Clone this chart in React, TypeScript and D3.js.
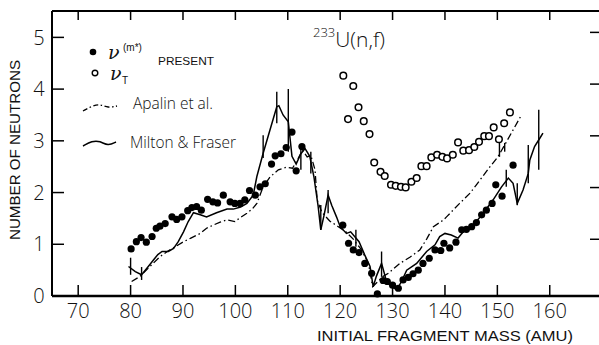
import React from 'react';
import * as d3 from 'd3';

const xTicks = [70, 80, 90, 100, 110, 120, 130, 140, 150, 160];
const yTicks = [0, 1, 2, 3, 4, 5];

// ν(m*) present (filled dots): [mass, neutrons]
const nuPresent: [number, number][] = [
  [80.1, 0.91], [81.1, 1.05], [82.0, 1.13], [83.0, 1.04], [84.1, 1.15], [84.9, 1.31],
  [85.6, 1.35], [86.6, 1.40], [87.9, 1.53], [88.8, 1.48], [89.8, 1.53], [90.9, 1.65],
  [91.7, 1.71], [92.6, 1.73], [93.5, 1.66], [94.7, 1.87], [95.7, 1.82], [96.6, 1.80],
  [97.7, 1.95], [99.0, 1.82], [99.9, 1.79], [100.9, 1.79], [101.8, 1.86], [102.7, 2.04],
  [103.8, 1.95], [104.7, 2.11], [105.7, 2.17], [106.9, 2.55], [107.6, 2.71], [108.7, 2.75],
  [109.7, 2.87], [110.8, 3.17], [111.6, 2.42], [112.7, 2.89],
  [120.5, 1.37], [121.6, 1.02], [122.5, 0.89], [123.6, 0.84], [124.7, 0.63], [126.0, 0.44],
  [127.1, 0.04], [128.2, 0.30], [129.0, 0.28], [130.0, 0.21], [131.1, 0.15], [132.0, 0.31],
  [133.0, 0.36], [133.9, 0.43], [134.9, 0.50], [135.8, 0.63], [137.0, 0.73], [138.1, 0.89],
  [139.2, 0.88], [139.8, 1.02], [140.9, 0.93], [142.1, 1.04], [143.2, 1.28], [144.1, 1.29],
  [145.1, 1.34], [146.0, 1.42], [147.0, 1.57], [147.9, 1.66], [149.0, 1.79], [149.7, 2.15],
  [150.9, 1.93], [153.0, 2.53],
];

// ν_T present (open circles)
const nuTotal: [number, number][] = [
  [120.6, 4.26], [121.5, 3.42], [122.5, 4.06], [123.5, 3.65], [124.5, 3.38], [125.6, 3.13],
  [126.5, 2.58], [127.7, 2.40], [128.5, 2.32], [129.7, 2.15], [130.6, 2.13], [131.6, 2.11],
  [132.5, 2.10], [133.6, 2.21], [134.6, 2.28], [135.5, 2.51], [136.5, 2.51], [137.4, 2.68],
  [138.5, 2.73], [139.5, 2.69], [140.4, 2.66], [141.5, 2.73], [142.5, 2.97], [143.5, 2.81],
  [144.6, 2.82], [145.6, 2.88], [146.5, 2.98], [147.5, 3.09], [148.4, 3.09], [149.3, 3.26],
  [150.3, 3.03], [151.3, 3.34], [152.4, 3.55],
];

// Milton & Fraser (solid line)
const milton: [number, number][] = [
  [79.6, 0.57], [80.9, 0.47], [82.1, 0.41], [83.3, 0.56], [84.4, 0.70], [85.2, 0.80],
  [86.0, 0.86], [87.2, 0.86], [88.2, 0.92], [89.1, 1.05], [90.1, 1.24], [91.0, 1.44],
  [92.0, 1.61], [93.3, 1.57], [94.5, 1.53], [96.4, 1.61], [98.4, 1.68], [99.6, 1.68],
  [101.0, 1.72], [102.2, 1.79], [103.4, 1.95], [104.1, 2.31], [105.3, 2.76], [106.6, 3.21],
  [107.9, 3.66], [108.3, 3.68], [109.1, 3.50], [110.1, 3.37], [110.8, 2.70], [111.6, 2.55],
  [112.5, 2.75], [113.3, 2.85], [114.2, 2.70], [115.0, 2.30], [115.8, 1.73], [116.3, 1.28],
  [116.9, 1.55], [117.7, 1.95], [118.4, 1.75], [119.3, 1.53], [120.0, 1.34], [121.2, 1.21],
  [122.0, 1.24], [123.0, 1.12], [123.6, 1.05], [124.7, 0.79], [125.7, 0.57], [126.3, 0.18],
  [126.9, 0.38], [127.9, 0.63], [128.8, 0.30], [129.8, 0.18], [130.8, 0.12], [131.7, 0.28],
  [132.7, 0.50], [134.6, 0.63], [136.5, 0.86], [138.1, 0.99], [139.0, 1.15], [140.0, 1.21],
  [141.2, 1.18], [142.5, 1.12], [143.8, 1.28], [145.4, 1.37], [147.3, 1.60], [149.2, 1.86],
  [150.8, 2.11], [152.1, 2.28], [153.0, 2.18], [153.8, 1.79], [154.9, 2.05], [155.9, 2.37],
  [156.2, 2.63], [157.1, 2.89], [158.1, 3.05], [158.7, 3.15],
];

// Apalin et al. (dash-dot line)
const apalin: [number, number][] = [
  [80.2, 0.28], [81.8, 0.38], [83.5, 0.55], [85.6, 0.76], [87.0, 0.86], [88.5, 0.95],
  [90.1, 1.05], [91.5, 1.12], [93.3, 1.21], [94.5, 1.31], [96.0, 1.38], [97.1, 1.43],
  [98.4, 1.47], [99.9, 1.44], [101.0, 1.52], [102.2, 1.60], [103.2, 1.68], [104.1, 1.79],
  [105.3, 2.11], [106.6, 2.30], [108.2, 2.44], [109.8, 2.49], [110.9, 2.47], [112.0, 2.66],
  [112.8, 2.82], [113.7, 2.69], [114.4, 2.72], [115.2, 2.44], [115.6, 1.86], [116.5, 1.62],
  [118.0, 1.45], [119.5, 1.35], [121.0, 1.25], [122.5, 1.10], [124.0, 0.90], [125.4, 0.63],
  [126.2, 0.18], [127.2, 0.28], [128.2, 0.38], [129.2, 0.44], [131.4, 0.63], [133.3, 0.75],
  [135.2, 0.89], [136.5, 1.10], [137.8, 1.34], [139.7, 1.47], [140.3, 1.53], [142.8, 1.79],
  [144.8, 1.99], [146.0, 2.15], [148.6, 2.50], [150.1, 2.69], [151.4, 2.92], [153.0, 3.21],
  [154.6, 3.50],
];

// vertical error bars: [mass, low, high]
const errorBars: [number, number, number][] = [
  [80.0, 0.41, 0.74], [82.1, 0.31, 0.56], [105.3, 2.67, 3.11], [107.9, 3.34, 3.95],
  [110.1, 2.79, 4.0], [112.5, 2.44, 2.86], [114.4, 2.37, 2.79], [116.3, 1.28, 1.76],
  [117.7, 1.6, 2.05], [123.0, 0.95, 1.28], [127.9, 0.37, 0.86], [150.4, 2.69, 2.98],
  [151.4, 2.79, 2.96], [151.7, 2.11, 2.44], [153.8, 1.76, 2.18], [155.9, 2.18, 2.92],
  [157.9, 2.44, 3.6],
];

export default function App() {
  const W = 599, H = 345;
  const x = d3.scaleLinear().domain([65, 169.4]).range([52, 599]);
  const y = d3.scaleLinear().domain([0, 5.51]).range([296, 11]);
  const line = d3.line<[number, number]>().x(d => x(d[0])).y(d => y(d[1])).curve(d3.curveLinear);
  const tickFont = "'Open Sans', 'Liberation Sans', sans-serif";
  const sans = "'Liberation Sans', Arial, sans-serif";
  const x0 = x.range()[0];
  const yTop = y(5.51), yBot = y(0);

  const legendWave = d3.line<[number, number]>().curve(d3.curveBasis);

  return (
    <svg width={W} height={H} style={{ position: 'absolute', left: 0, top: 0, background: '#fff' }}>
      <rect width={W} height={H} fill="#fff" />
      {/* frame */}
      <line x1={x0} x2={x0} y1={yTop} y2={yBot} stroke="#000" strokeWidth={2} />
      <line x1={x0} x2={W} y1={yTop} y2={yTop} stroke="#000" strokeWidth={2} />
      <line x1={x0} x2={W} y1={yBot} y2={yBot} stroke="#000" strokeWidth={2.4} />
      {/* x ticks */}
      {xTicks.map(t => (
        <g key={'xt' + t}>
          <line x1={x(t)} x2={x(t)} y1={yBot} y2={yBot - 11} stroke="#000" strokeWidth={1.5} />
          <line x1={x(t)} x2={x(t)} y1={yTop} y2={yTop + 9} stroke="#000" strokeWidth={1.5} />
          <text x={x(t)} y={318} textAnchor="middle" fontFamily={tickFont} fontWeight={300}
            fontSize={20} fill="#111">{t}</text>
        </g>
      ))}
      {/* y ticks */}
      {yTicks.map(t => (
        <g key={'yt' + t}>
          {t > 0 && <line x1={x0} x2={x0 + 12} y1={y(t)} y2={y(t)} stroke="#000" strokeWidth={1.5} />}
          {t > 0 && <line x1={W - 9} x2={W} y1={y(t) - 5} y2={y(t) - 5} stroke="#000" strokeWidth={1.5} />}
          <text x={39} y={y(t)} dy="0.36em" textAnchor="middle" fontFamily={tickFont} fontWeight={300}
            fontSize={20} fill="#111">{t}</text>
        </g>
      ))}
      {/* axis titles */}
      <text transform={`translate(20,150) rotate(-90)`} textAnchor="middle" fontFamily={sans}
        fontSize={15} textLength={180} lengthAdjust="spacingAndGlyphs" fill="#111">NUMBER OF NEUTRONS</text>
      <text x={317} y={341} fontFamily={sans} fontSize={15}
        textLength={256} lengthAdjust="spacingAndGlyphs" fill="#111">INITIAL FRAGMENT MASS (AMU)</text>

      {/* title */}
      <text x={313} y={47} fontFamily={tickFont} fontWeight={300} fill="#111">
        <tspan fontSize={13} dy={-10}>233</tspan>
        <tspan fontSize={21} dy={10}>U(n,f)</tspan>
      </text>

      {/* lines */}
      <path d={line(apalin) || ''} fill="none" stroke="#000" strokeWidth={1.3} strokeDasharray="7 3 1.5 3" />
      <path d={line(milton) || ''} fill="none" stroke="#000" strokeWidth={1.5} />
      {errorBars.map((e, i) => (
        <line key={'eb' + i} x1={x(e[0])} x2={x(e[0])} y1={y(e[1])} y2={y(e[2])} stroke="#000" strokeWidth={1.4} />
      ))}

      {/* points */}
      {nuPresent.map((d, i) => (
        <circle key={'p' + i} cx={x(d[0])} cy={y(d[1])} r={3.6} fill="#000" />
      ))}
      {nuTotal.map((d, i) => (
        <circle key={'t' + i} cx={x(d[0])} cy={y(d[1])} r={3.3} fill="#fff" stroke="#000" strokeWidth={1.5} />
      ))}

      {/* legend */}
      <circle cx={93} cy={52} r={3.3} fill="#000" />
      <text x={108} y={59} fontFamily="'DejaVu Serif', serif" fontStyle="italic" fontSize={19} fill="#111">ν</text>
      <text x={123} y={51} fontFamily={sans} fontSize={10} fill="#111">(m*)</text>
      <text x={158} y={65} fontFamily={sans} fontSize={11} textLength={56}
        lengthAdjust="spacingAndGlyphs" fill="#111">PRESENT</text>
      <circle cx={95} cy={73} r={2.8} fill="#fff" stroke="#000" strokeWidth={1.4} />
      <text x={110} y={80} fontFamily="'DejaVu Serif', serif" fontStyle="italic" fontSize={19} fill="#111">ν</text>
      <text x={122} y={84} fontFamily={sans} fontSize={10} fill="#111">T</text>
      <path d={legendWave([[83, 111], [92, 106], [100, 104], [108, 108], [117, 106]]) || ''} fill="none"
        stroke="#000" strokeWidth={1.3} strokeDasharray="5 2.5 1.5 2.5" />
      <text x={133} y={109} fontFamily={tickFont} fontWeight={300} fontSize={16} textLength={80}
        lengthAdjust="spacingAndGlyphs" fill="#111">Apalin et al.</text>
      <path d={legendWave([[83, 146], [92, 141], [100, 141], [108, 146], [116, 142]]) || ''} fill="none"
        stroke="#000" strokeWidth={1.5} />
      <text x={130} y={148} fontFamily={tickFont} fontWeight={300} fontSize={16} textLength={106}
        lengthAdjust="spacingAndGlyphs" fill="#111">Milton &amp; Fraser</text>
    </svg>
  );
}
